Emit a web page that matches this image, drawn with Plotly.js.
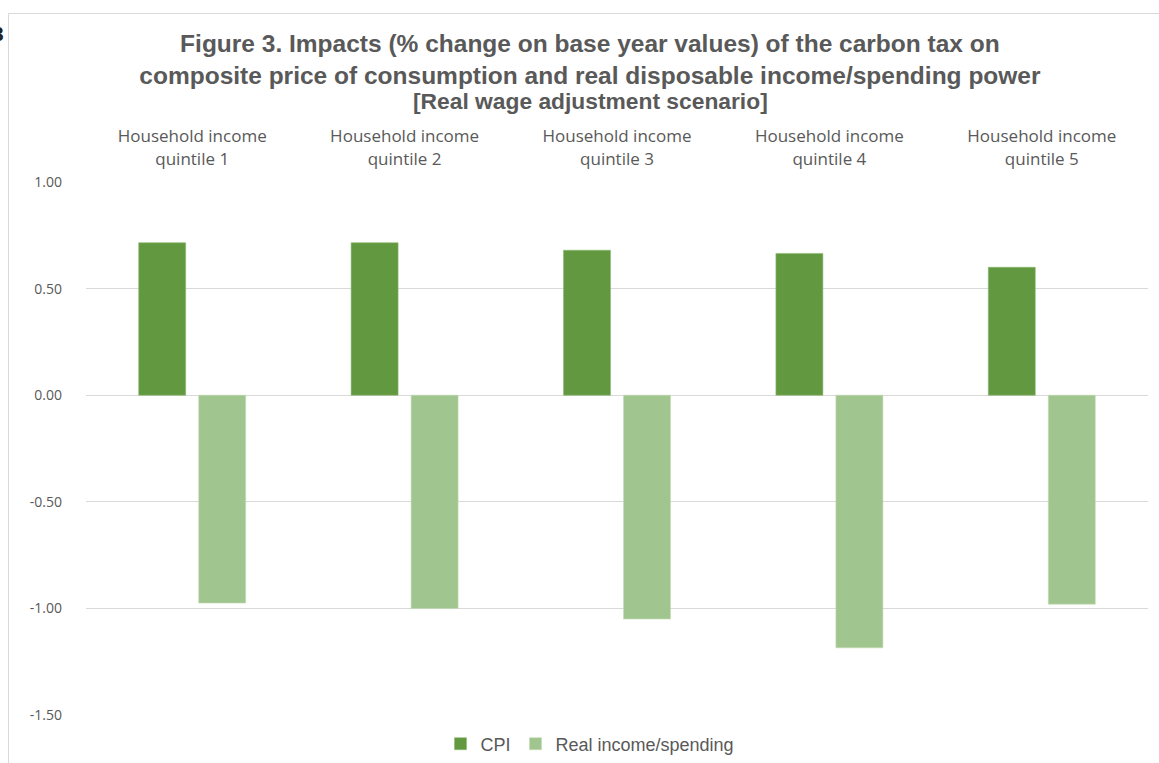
<!DOCTYPE html>
<html>
<head>
<meta charset="utf-8">
<script src="https://cdn.plot.ly/plotly-3.0.1.min.js"></script>
<style>html,body{margin:0;padding:0;background:#fff;}#chart{width:1159px;height:763px;}</style>
</head>
<body>
<div id="chart"></div>
<script>
const categories = ["Household income<br>quintile 1", "Household income<br>quintile 2", "Household income<br>quintile 3", "Household income<br>quintile 4", "Household income<br>quintile 5"];
const cpiValues = [0.715, 0.715, 0.68, 0.665, 0.60];
const realIncomeValues = [-0.975, -1.00, -1.05, -1.185, -0.98];
const tickValues = [1.0, 0.5, 0.0, -0.5, -1.0, -1.5];
const tickLabels = ["1.00", "0.50", "0.00", "-0.50", "-1.00", "-1.50"];
const seriesNames = ["CPI", "Real income/spending"];

const W = 1159, H = 763;
const M = {l: 86, r: 11, t: 182, b: 48};
const pw = W - M.l - M.r, ph = H - M.t - M.b;
const px = x => (x - M.l) / pw;
const py = y => (H - M.b - y) / ph;

const gray = '#595959';
const traces = [
  {type: 'bar', name: seriesNames[0], x: categories, y: cpiValues,
   marker: {color: '#62983f', line: {color: '#8cbb70', width: 0.6}}},
  {type: 'bar', name: seriesNames[1], x: categories, y: realIncomeValues,
   marker: {color: '#a1c58e', line: {color: '#c4dcb6', width: 0.6}}}
];

const layout = {
  width: W, height: H,
  margin: M,
  paper_bgcolor: '#fff', plot_bgcolor: '#fff',
  barmode: 'group', bargap: 0.435, bargroupgap: 0.217,
  showlegend: true,
  title: {
    text: 'Figure 3. Impacts (% change on base year values) of the carbon tax on<br>composite price of consumption and real disposable income/spending power',
    font: {family: 'Liberation Sans, Arial, sans-serif', size: 24.5, color: gray, weight: 'bold'},
    x: 0.509, xanchor: 'center', xref: 'container',
    y: 1 - 52/H, yanchor: 'top', yref: 'container'
  },
  xaxis: {
    side: 'top', showgrid: false, showline: false, ticks: '',
    tickfont: {family: 'Open Sans, sans-serif', size: 17, color: gray},
    ticklabelstandoff: 13,
    fixedrange: true
  },
  yaxis: {
    range: [-1.5, 1.0], tickvals: tickValues, ticktext: tickLabels,
    showgrid: true, gridcolor: '#d9d9d9', gridwidth: 1,
    zeroline: true, zerolinecolor: '#d9d9d9', zerolinewidth: 1,
    showline: false, ticks: '',
    tickfont: {family: 'Open Sans, sans-serif', size: 14, color: gray},
    ticklabelstandoff: 23,
    fixedrange: true
  },
  legend: {
    orientation: 'h', x: 590 / W, xref: 'container', xanchor: 'center',
    y: 1 - 744 / H, yref: 'container', yanchor: 'middle',
    font: {family: 'Liberation Sans, Arial, sans-serif', size: 18, color: gray},
    traceorder: 'normal', bgcolor: 'rgba(0,0,0,0)'
  },
  shapes: [
    {type: 'rect', xref: 'paper', yref: 'paper', x0: px(8.5), x1: px(1175), y0: py(780), y1: py(13.5),
     line: {color: '#d9d9d9', width: 1}, fillcolor: 'rgba(0,0,0,0)', layer: 'below'}
  ],
  annotations: [
    {text: '<b>[Real wage adjustment scenario]</b>', xref: 'paper', yref: 'paper', x: px(590.5), xanchor: 'center',
     y: py(101), yanchor: 'middle', showarrow: false,
     font: {family: 'Liberation Sans, Arial, sans-serif', size: 22.8, color: gray}},
    {text: '<b>3</b>', xref: 'paper', yref: 'paper', x: px(6), xanchor: 'right', y: py(33), yanchor: 'middle',
     showarrow: false, font: {family: 'Liberation Sans, Arial, sans-serif', size: 21, color: '#222'}}
  ]
};

Plotly.newPlot('chart', traces, layout, {displayModeBar: false, staticPlot: true});
</script>
</body>
</html>
